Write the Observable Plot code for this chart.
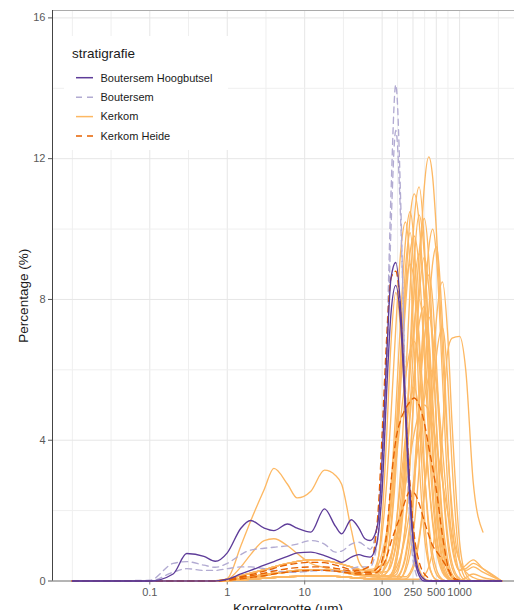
<!DOCTYPE html>
<html><head><meta charset="utf-8">
<script src="https://cdn.jsdelivr.net/npm/d3@7"></script>
<script src="https://cdn.jsdelivr.net/npm/@observablehq/plot@0.6"></script>
<style>
html,body{margin:0;padding:0;background:#fff;overflow:hidden;}
#wrap{position:relative;width:524px;height:630px;}
#wrap svg.chart{max-width:none !important;display:block;}
#legend{position:absolute;left:0;top:0;}
</style></head><body><div id="wrap"></div>
<script>
// grain size classes (µm)
const sizes = [0.01,0.1,0.2,0.3,0.5,0.7,1,1.5,2,3,4,6,8,12,18,25,30,40,50,
  60,70,80,90,100,115,130,150,175,200,230,260,300,350,400,450,500,600,700,800,1000,1200,1500,2000,3500];

// Boutersem Hoogbutsel (%)
const boutersemHoogbutsel = [
  [0,0,0.2,0.78,0.7,0.56,0.8,1.5,1.72,1.5,1.43,1.62,1.5,1.39,2.05,1.55,1.34,1.74,1.5,
   1.2,1.15,1.3,1.8,3.5,6.5,8.6,9.05,7.6,5.0,2.4,0.8,0.15,0,0,0,0,0,0,0,0,0,0,0,0],
  [0,0,0,0,0,0,0.05,0.2,0.3,0.45,0.55,0.7,0.8,0.82,0.72,0.6,0.53,0.68,0.75,
   0.7,0.68,0.85,1.4,2.6,5.5,7.6,8.4,7.2,4.7,2.2,0.9,0.25,0.05,0,0,0,0,0,0,0,0,0,0,0]
];
// Boutersem (%)
const boutersem = [
  [0,0.02,0.5,0.55,0.45,0.39,0.5,0.75,0.88,0.93,0.96,1.0,1.05,1.15,1.05,0.82,0.85,1.05,1.1,
   1.0,0.9,1.2,1.9,3.2,6.8,11.0,14.1,10.5,5.0,1.5,0.4,0.05,0,0,0,0,0,0,0,0,0,0,0,0],
  [0,0,0.25,0.35,0.3,0.3,0.35,0.4,0.4,0.35,0.3,0.25,0.25,0.28,0.3,0.28,0.25,0.35,0.4,
   0.4,0.4,0.7,1.4,2.8,6.0,10.0,12.8,10.0,5.5,1.8,0.6,0.2,0.05,0,0,0,0,0,0,0,0,0,0,0]
];
// Kerkom (%)
const kerkom = [
  [0,0,0,0,0,0,0.03,0.08,0.12,0.18,0.22,0.27,0.3,0.32,0.32,0.3,0.28,0.24,0.2,
   0.18,0.16,0.15,0.15,0.15,0.15,0.16,0.25,0.7,1.6,3.35,5.5,8.5,11.2,12.05,11.45,10.0,6.6,3.8,2.05,0.55,0.3,0.4,0.25,0],
  [0,0,0,0,0,0,0.01,0.03,0.05,0.08,0.1,0.12,0.13,0.14,0.14,0.13,0.12,0.1,0.08,
   0.07,0.07,0.08,0.1,0.15,0.24,0.6,1.5,3.3,5.6,8.35,10.3,11.2,9.6,6.5,3.8,2.0,0.5,0.12,0.03,0,0,0,0,0],
  [0,0,0,0,0,0,0.02,0.06,0.1,0.15,0.2,0.25,0.28,0.3,0.3,0.28,0.25,0.2,0.16,
   0.15,0.15,0.16,0.18,0.25,0.7,1.45,3.1,5.7,8.25,10.35,11.0,10.2,7.95,5.55,3.65,2.3,0.85,0.3,0.1,0,0,0,0,0],
  [0,0,0,0,0,0,0.05,0.15,0.22,0.32,0.4,0.5,0.56,0.6,0.58,0.52,0.48,0.4,0.33,
   0.3,0.28,0.27,0.3,0.57,1.4,2.7,4.85,7.65,9.65,10.5,9.5,6.65,3.3,1.4,0.55,0.2,0.03,0,0,0,0,0,0,0],
  [0,0,0,0,0,0,0.01,0.03,0.05,0.08,0.1,0.12,0.13,0.14,0.14,0.13,0.12,0.1,0.08,
   0.07,0.06,0.06,0.06,0.06,0.07,0.17,0.5,1.37,2.8,4.9,7.1,9.3,10.3,9.15,6.8,4.5,1.55,0.45,0.12,0,0.1,0.2,0.1,0],
  [0,0,0,0,0,0,0.03,0.08,0.12,0.18,0.22,0.27,0.3,0.32,0.32,0.3,0.28,0.24,0.2,
   0.18,0.2,0.35,0.7,1.36,2.85,4.7,7.2,9.45,10.2,8.95,6.5,3.45,1.3,0.45,0.15,0.04,0,0,0,0,0,0,0,0],
  [0,0,0,0,0,0,0.01,0.03,0.05,0.08,0.1,0.12,0.13,0.14,0.14,0.13,0.12,0.1,0.08,
   0.07,0.06,0.05,0.05,0.05,0.05,0.05,0.06,0.24,0.64,1.5,2.85,5.0,7.7,9.45,10.0,9.3,5.8,2.75,1.15,0.3,0.45,0.6,0.35,0],
  [0,0,0,0,0,0,0.05,0.15,0.22,0.32,0.4,0.5,0.56,0.6,0.58,0.52,0.48,0.4,0.33,
   0.3,0.28,0.27,0.28,0.5,1.1,2.05,3.65,5.9,7.8,9.35,9.8,8.9,6.4,4.0,2.3,1.25,0.34,0.09,0,0,0,0,0,0],
  [0,0,0,0,0,0,0.01,0.03,0.05,0.08,0.1,0.12,0.13,0.14,0.14,0.13,0.12,0.1,0.08,
   0.07,0.06,0.05,0.05,0.05,0.05,0.05,0.05,0.1,0.28,0.76,1.6,3.2,5.55,7.7,9.05,9.5,7.35,3.95,1.7,0.23,0.02,0,0,0],
  [0,0,0,0,0,0,0.02,0.06,0.1,0.15,0.2,0.25,0.28,0.3,0.3,0.28,0.25,0.2,0.16,
   0.15,0.14,0.13,0.13,0.13,0.13,0.19,0.64,1.85,3.7,6.3,8.3,9.3,8.15,5.85,3.7,2.15,0.64,0.17,0.04,0,0,0,0,0],
  [0,0,0,0,0,0,0.03,0.08,0.12,0.18,0.22,0.27,0.3,0.32,0.32,0.3,0.28,0.24,0.2,
   0.18,0.18,0.19,0.22,0.49,1.2,2.3,4.15,6.55,8.3,9.0,8.5,6.95,4.7,2.9,1.7,0.98,0.31,0.09,0,0,0,0,0,0],
  [0,0,0,0,0,0,0.01,0.03,0.05,0.08,0.1,0.12,0.13,0.14,0.14,0.13,0.12,0.1,0.08,
   0.07,0.06,0.05,0.05,0.05,0.05,0.05,0.05,0.1,0.38,1.17,2.6,5.05,7.75,8.7,7.95,6.25,2.95,1.1,0.37,0.04,0,0,0,0],
  [0,0,0,0,0,0,0.01,0.03,0.05,0.08,0.1,0.12,0.13,0.14,0.14,0.13,0.12,0.1,0.08,
   0.07,0.06,0.05,0.05,0.05,0.05,0.05,0.05,0.05,0.06,0.18,0.45,1.13,2.5,4.3,6.0,7.4,8.5,7.05,4.45,1.1,0.2,0,0,0],
  [0,0,0,0,0,0,0.05,0.15,0.22,0.32,0.4,0.5,0.56,0.6,0.58,0.52,0.48,0.4,0.33,
   0.3,0.28,0.3,0.7,1.75,4.25,6.75,8.2,7.0,4.75,2.5,1.15,0.35,0.08,0.02,0,0,0,0,0,0,0,0,0,0],
  [0,0,0,0,0,0,0.03,0.08,0.12,0.18,0.22,0.27,0.3,0.32,0.32,0.3,0.28,0.24,0.2,
   0.18,0.16,0.15,0.15,0.15,0.25,0.45,0.96,1.93,3.15,4.7,6.0,7.3,7.8,6.95,5.15,3.4,1.17,0.34,0.09,0,0,0,0,0],
  [0,0,0,0,0,0,0.02,0.06,0.1,0.15,0.2,0.25,0.28,0.3,0.3,0.28,0.25,0.2,0.16,
   0.15,0.13,0.12,0.12,0.12,0.12,0.12,0.12,0.12,0.12,0.25,0.55,1.23,2.47,3.93,5.3,6.37,7.2,5.75,3.3,0.61,0.08,0,0,0],
  [0,0,0,0,0,0,0.05,0.15,0.22,0.32,0.4,0.5,0.56,0.6,0.58,0.52,0.48,0.4,0.33,
   0.3,0.28,0.3,0.48,0.79,1.42,2.2,3.33,4.7,5.78,6.56,6.8,6.17,4.45,2.79,1.6,0.87,0.24,0.06,0,0,0,0,0,0],
  [0,0,0,0,0,0,0.03,0.08,0.12,0.18,0.22,0.27,0.3,0.32,0.32,0.3,0.28,0.24,0.2,
   0.18,0.16,0.15,0.15,0.15,0.15,0.16,0.35,0.73,1.27,2.08,2.96,4.07,5.17,5.8,6.0,5.63,3.78,2.02,0.94,0.3,0.35,0.5,0.35,0],
  [0,0,0,0,0,0,0.05,0.15,0.22,0.32,0.4,0.5,0.56,0.6,0.58,0.52,0.48,0.4,0.33,
   0.3,0.28,0.27,0.26,0.26,0.45,0.74,1.23,1.96,2.72,3.55,4.21,4.78,5.0,4.83,4.42,3.9,2.84,1.96,1.32,0.58,0.26,0.1,0.02,0],
  [0,0,0,0,0,0,0.01,0.03,0.05,0.08,0.1,0.12,0.13,0.14,0.14,0.13,0.12,0.1,0.08,
   0.07,0.06,0.06,0.08,0.2,0.68,1.6,3.56,6.5,8.87,9.9,8.6,5.1,1.89,0.55,0.14,0.03,0,0,0,0,0,0,0,0],
  [0,0,0,0,0,0,0.01,0.03,0.05,0.08,0.1,0.12,0.13,0.14,0.14,0.13,0.12,0.1,0.08,
   0.07,0.06,0.05,0.05,0.05,0.05,0.1,0.45,1.56,3.55,6.57,9.1,10.4,9.28,6.98,4.72,2.96,1.03,0.33,0.1,0,0,0,0,0],
  [0,0,0,0,0,0,0.02,0.06,0.1,0.15,0.2,0.25,0.28,0.3,0.3,0.28,0.25,0.2,0.16,
   0.15,0.13,0.12,0.12,0.12,0.12,0.12,0.12,0.28,0.74,1.72,3.07,5.03,6.88,7.5,6.94,5.68,3.0,1.31,0.51,0.07,0,0,0,0],
  [0,0,0,0,0,0,0.03,0.08,0.12,0.18,0.22,0.27,0.3,0.32,0.32,0.3,0.28,0.24,0.2,
   0.18,0.16,0.15,0.15,0.15,0.15,0.15,0.17,0.63,1.6,3.45,5.62,8.05,9.2,8.33,6.48,4.52,1.82,0.63,0.2,0,0,0,0,0],
  [0,0,0,0,0,0,0.07,1.0,1.7,2.6,3.2,2.75,2.36,2.55,3.15,3.0,2.75,1.45,0.55,
   0.35,0.33,0.35,0.4,0.45,0.5,0.73,1.54,2.85,4.1,5.17,5.5,4.8,3.1,1.63,0.77,0.34,0.05,0,0,0,0,0,0,0],
  [0,0,0,0,0,0.01,0.05,0.4,0.75,1.15,1.2,1.0,0.78,0.5,0.38,0.3,0.27,0.25,0.25,
   0.25,0.25,0.25,0.25,0.25,0.27,0.42,1.06,2.37,4.0,5.96,7.35,8.0,6.85,4.64,2.72,1.44,0.35,0.08,0,0,0,0,0,0],
  [0,0,0,0,0,0,0.01,0.03,0.05,0.08,0.1,0.12,0.13,0.14,0.14,0.13,0.12,0.1,0.08,
   0.07,0.06,0.05,0.05,0.05,0.05,0.05,0.05,0.05,0.05,0.05,0.05,0.05,0.15,0.4,0.9,1.8,4.2,6.5,6.9,6.95,6.0,2.8,1.39,null]
];
// Kerkom Heide (%)
const kerkomHeide = [
  [0,0,0,0,0,0,0.05,0.12,0.18,0.28,0.36,0.46,0.5,0.53,0.52,0.45,0.4,0.32,0.3,
   0.35,0.45,1.0,2.2,4.2,7.0,8.6,8.8,7.5,5.0,2.7,1.3,0.55,0.2,0.08,0,0,0,0,0,0,0,0,0,0],
  [0,0,0,0,0,0,0.03,0.1,0.15,0.22,0.28,0.35,0.38,0.4,0.4,0.36,0.33,0.28,0.25,
   0.25,0.25,0.3,0.4,0.6,1.4,2.8,4.0,4.6,4.9,5.1,5.2,5.0,4.5,3.8,3.2,2.6,1.3,0.45,0.1,0,0,0,0,0],
  [0,0,0,0,0,0,0.02,0.06,0.1,0.15,0.2,0.25,0.28,0.3,0.3,0.28,0.26,0.22,0.2,
   0.2,0.2,0.22,0.28,0.4,0.7,1.1,1.5,1.9,2.3,2.55,2.5,2.2,1.7,1.3,1.0,0.85,0.6,0.35,0.15,0.02,0,0,0,0]
];

const groups = ["Boutersem Hoogbutsel", "Boutersem", "Kerkom", "Kerkom Heide"];
const colors = ["#5E3C99", "#B2ABD2", "#FDB863", "#E66101"];
const dashed = [false, true, false, true];
const xBreaks = [0.1, 1, 10, 100, 250, 500, 1000];
const yBreaks = [0, 4, 8, 12, 16];

function rowsOf(series, name) {
  const out = [];
  series.forEach((arr, i) => arr.forEach((v, j) => out.push({id: name + i, size: sizes[j], pct: v})));
  return out;
}
const seriesByGroup = [boutersemHoogbutsel, boutersem, kerkom, kerkomHeide];

// grid (ggplot-style minor breaks: geometric midpoints of major breaks)
const ext = [0.01, ...xBreaks, 10000];
const xMinor = [0.01, ...d3.pairs(ext).map(([a, b]) => Math.sqrt(a * b))];
const yMinor = d3.pairs(yBreaks).map(([a, b]) => (a + b) / 2);

const xDomain = [Math.pow(10, -2.2563), Math.pow(10, 3.825)];
const yDomain = [0, 16.21];

const W = 524, H = 630, mL = 52, mR = 1, mT = 10, mB = 49.5;
const frameH = H - mT - mB;

const lineMark = (g) => Plot.line(rowsOf(seriesByGroup[g], groups[g]), {
  x: "size", y: "pct", z: "id", stroke: colors[g], strokeWidth: 1.35,
  strokeDasharray: dashed[g] ? "6,4.5" : null, curve: "monotone-x"
});

const chart = Plot.plot({
  width: W, height: H,
  marginLeft: mL, marginRight: mR, marginTop: mT, marginBottom: mB,
  style: {fontFamily: "'Liberation Sans', Arial, sans-serif", background: "#fff"},
  x: {type: "log", domain: xDomain, axis: null},
  y: {domain: yDomain},
  marks: [
    Plot.ruleX(xMinor, {stroke: "#efefef", strokeWidth: 1}),
    Plot.ruleX(xBreaks, {stroke: "#e6e6e6", strokeWidth: 1}),
    Plot.ruleY(yMinor, {stroke: "#efefef", strokeWidth: 1}),
    Plot.ruleY(yBreaks, {stroke: "#e6e6e6", strokeWidth: 1}),
    Plot.frame({stroke: "#ababab"}),
    Plot.ruleY([0], {stroke: "#9a9a9a"}),
    Plot.ruleX([xDomain[0]], {stroke: "#444"}),
    // x axis ticks and labels
    Plot.ruleX(xBreaks, {insetTop: frameH, insetBottom: -4, stroke: "#777"}),
    Plot.text(xBreaks, {x: d => d, text: d => String(d), frameAnchor: "bottom", dy: 7,
      lineAnchor: "top", fontSize: 11, fill: "#595959"}),
    Plot.axisY(yBreaks, {tickSize: 4, tickPadding: 3, fontSize: 11, color: "#595959", label: null}),
    lineMark(2), lineMark(1), lineMark(3), lineMark(0),
    Plot.text(["Percentage (%)"], {text: d => d, frameAnchor: "left", dx: -29, rotate: -90,
      textAnchor: "middle", fontSize: 13.5, fill: "#1a1a1a"}),
    Plot.text(["Korrelgrootte (µm)"], {text: d => d, frameAnchor: "bottom", dy: 22, lineAnchor: "top",
      textAnchor: "middle", fontSize: 13.5, fill: "#1a1a1a"})
  ]
});
chart.classList.add("chart");
const wrap = document.getElementById("wrap");
wrap.appendChild(chart);

// legend (inside the panel, top-left)
const leg = d3.select(wrap).append("svg").attr("id", "legend")
  .attr("width", 240).attr("height", 160)
  .style("font-family", "'Liberation Sans', Arial, sans-serif");
leg.append("rect").attr("x", 64).attr("y", 36).attr("width", 164).attr("height", 114).attr("fill", "#fff");
leg.append("text").attr("x", 72).attr("y", 58).attr("font-size", 13.5).attr("fill", "#1a1a1a").text("stratigrafie");
groups.forEach((g, i) => {
  const cy = 77.7 + i * 19.45;
  leg.append("line").attr("x1", 76).attr("x2", 93).attr("y1", cy).attr("y2", cy)
    .attr("stroke", colors[i]).attr("stroke-width", 1.5)
    .attr("stroke-dasharray", dashed[i] ? "6,5" : null);
  leg.append("text").attr("x", 100.5).attr("y", cy).attr("dy", "0.35em")
    .attr("font-size", 11).attr("fill", "#1a1a1a").text(g);
});
</script></body></html>
